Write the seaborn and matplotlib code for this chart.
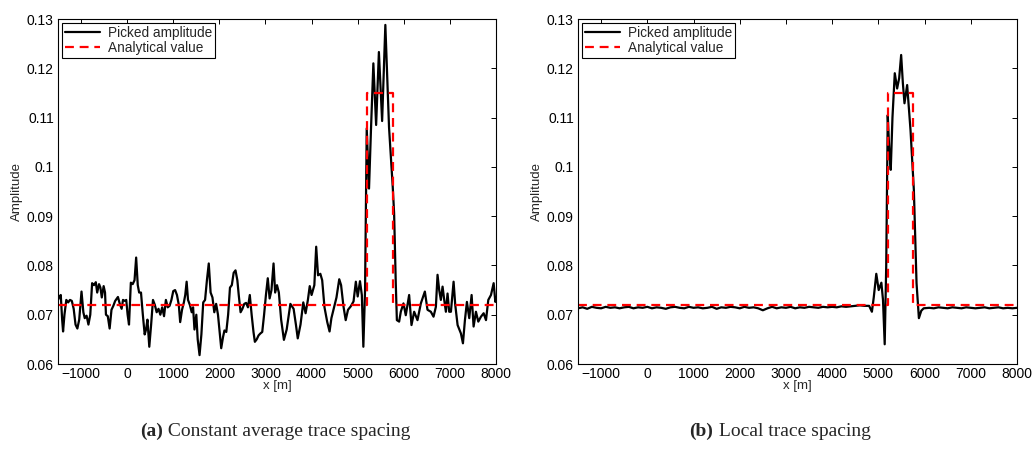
import numpy as np
import pandas as pd
import matplotlib
matplotlib.use("Agg")
import matplotlib.pyplot as plt
import seaborn as sns
from matplotlib.offsetbox import TextArea, HPacker, AnnotationBbox

# ---------------- data ----------------
x_a = [-1500, -1470, -1440, -1410, -1390, -1360, -1320, -1280, -1240, -1200, -1160, -1120,
       -1080, -1040, -990, -950, -920, -880, -840, -800, -760, -720, -680, -650, -610, -580,
       -550, -510, -480, -460, -420, -380, -340, -300, -260, -200, -160, -120, -90, -50, -20,
       10, 40, 80, 120, 160, 195, 230, 260, 300, 340, 380, 410, 440, 480, 520, 560, 600, 640,
       680, 720, 760, 800, 840, 880, 920, 960, 1000, 1040, 1080, 1120, 1150, 1190, 1230, 1260,
       1290, 1320, 1360, 1400, 1430, 1460, 1500, 1530, 1570, 1610, 1650, 1690, 1730, 1770,
       1810, 1850, 1890, 1930, 1970, 2010, 2040, 2080, 2110, 2150, 2190, 2230, 2270, 2310,
       2350, 2390, 2420, 2460, 2500, 2540, 2580, 2620, 2660, 2700, 2740, 2770, 2810, 2850,
       2890, 2930, 2970, 3010, 3050, 3090, 3130, 3175, 3210, 3250, 3290, 3340, 3400, 3460,
       3540, 3610, 3660, 3700, 3760, 3820, 3870, 3920, 3960, 4000, 4060, 4100, 4140, 4190,
       4230, 4280, 4340, 4390, 4430, 4480, 4540, 4600, 4640, 4690, 4740, 4790, 4850, 4910,
       4960, 5000, 5050, 5090, 5123, 5160, 5196, 5246, 5290, 5340, 5400, 5460, 5530, 5600,
       5680, 5760, 5790, 5826, 5850, 5899, 5935, 5993, 6043, 6116, 6167, 6225, 6297, 6370,
       6457, 6514, 6587, 6645, 6696, 6732, 6768, 6804, 6841, 6877, 6913, 6949, 6985, 7022,
       7080, 7116, 7167, 7239, 7283, 7326, 7369, 7420, 7471, 7514, 7565, 7616, 7674, 7732,
       7783, 7833, 7891, 7949, 7986, 8000]
y_a = [0.0730, 0.0737, 0.0740, 0.0690, 0.0666, 0.0700, 0.0730, 0.0725, 0.0730, 0.0728, 0.0712,
       0.0680, 0.0672, 0.0690, 0.0747, 0.0705, 0.0693, 0.0698, 0.0680, 0.0700, 0.0764, 0.0760,
       0.0766, 0.0745, 0.0762, 0.0755, 0.0735, 0.0758, 0.0745, 0.0700, 0.0697, 0.0672, 0.0710,
       0.0718, 0.0728, 0.0736, 0.0722, 0.0712, 0.0730, 0.0728, 0.0730, 0.0700, 0.0680, 0.0765,
       0.0762, 0.0770, 0.0816, 0.0760, 0.0745, 0.0745, 0.0700, 0.0660, 0.0670, 0.0690, 0.0635,
       0.0680, 0.0730, 0.0720, 0.0705, 0.0712, 0.0700, 0.0715, 0.0697, 0.0730, 0.0715, 0.0718,
       0.0730, 0.0748, 0.0750, 0.0740, 0.0720, 0.0685, 0.0710, 0.0725, 0.0740, 0.0767, 0.0730,
       0.0720, 0.0705, 0.0715, 0.0670, 0.0700, 0.0650, 0.0618, 0.0660, 0.0725, 0.0730, 0.0770,
       0.0804, 0.0745, 0.0735, 0.0705, 0.0722, 0.0700, 0.0660, 0.0632, 0.0655, 0.0668, 0.0665,
       0.0700, 0.0755, 0.0760, 0.0785, 0.0790, 0.0770, 0.0740, 0.0705, 0.0712, 0.0722, 0.0724,
       0.0715, 0.0740, 0.0700, 0.0665, 0.0645, 0.0650, 0.0658, 0.0662, 0.0665, 0.0700, 0.0740,
       0.0774, 0.0733, 0.0750, 0.0804, 0.0745, 0.0760, 0.0745, 0.0690, 0.0649, 0.0670, 0.0722,
       0.0712, 0.0680, 0.0652, 0.0680, 0.0725, 0.0703, 0.0730, 0.0758, 0.0740, 0.0760, 0.0838,
       0.0780, 0.0783, 0.0770, 0.0715, 0.0685, 0.0666, 0.0693, 0.0712, 0.0735, 0.0772, 0.0760,
       0.0718, 0.0689, 0.0710, 0.0717, 0.0727, 0.0767, 0.0737, 0.0768, 0.0740, 0.0635, 0.0750,
       0.1078, 0.0956, 0.1080, 0.1210, 0.1085, 0.1233, 0.1093, 0.1288, 0.1080, 0.0960, 0.0906,
       0.0764, 0.0689, 0.0686, 0.0706, 0.0723, 0.0699, 0.0740, 0.0679, 0.0706, 0.0689, 0.0723,
       0.0747, 0.0710, 0.0706, 0.0696, 0.0716, 0.0781, 0.0750, 0.0730, 0.0757, 0.0730, 0.0706,
       0.0743, 0.0706, 0.0706, 0.0767, 0.0720, 0.0679, 0.0662, 0.0642, 0.0689, 0.0726, 0.0693,
       0.0740, 0.0676, 0.0706, 0.0686, 0.0696, 0.0703, 0.0689, 0.0730, 0.0740, 0.0764, 0.0726,
       0.0735]

x_b = [-1500, -1400, -1300, -1200, -1100, -1000, -900, -800, -700, -600, -500, -400, -300,
       -200, -100, 0, 100, 200, 300, 400, 500, 600, 700, 800, 900, 1000, 1100, 1200, 1300,
       1400, 1500, 1600, 1700, 1800, 1900, 2000, 2100, 2200, 2300, 2400, 2500, 2600, 2700,
       2800, 2900, 3000, 3100, 3200, 3300, 3400, 3500, 3600, 3700, 3800, 3900, 4000, 4100,
       4200, 4300, 4400, 4500, 4600, 4700, 4800, 4860, 4900, 4955, 5007, 5065, 5100, 5137,
       5170, 5203, 5235, 5268, 5305, 5355, 5406, 5450, 5493, 5530, 5565, 5623, 5696, 5768,
       5826, 5877, 5928, 5980, 6100, 6200, 6300, 6400, 6500, 6600, 6700, 6800, 6900, 7000,
       7100, 7200, 7300, 7400, 7500, 7600, 7700, 7800, 7900, 8000]
y_b = [0.0713, 0.0715, 0.0712, 0.0716, 0.0714, 0.0713, 0.0716, 0.0714, 0.0715, 0.0713, 0.0715,
       0.0716, 0.0713, 0.0715, 0.0714, 0.0716, 0.0713, 0.0715, 0.0714, 0.0712, 0.0715, 0.0716,
       0.0714, 0.0713, 0.0716, 0.0714, 0.0715, 0.0713, 0.0714, 0.0716, 0.0712, 0.0715, 0.0714,
       0.0716, 0.0715, 0.0713, 0.0716, 0.0714, 0.0715, 0.0713, 0.0709, 0.0713, 0.0716, 0.0713,
       0.0715, 0.0714, 0.0716, 0.0713, 0.0715, 0.0714, 0.0716, 0.0715, 0.0714, 0.0716, 0.0715,
       0.0716, 0.0715, 0.0717, 0.0716, 0.0717, 0.0718, 0.0719, 0.0718, 0.0718, 0.0706, 0.0735,
       0.0783, 0.0750, 0.0765, 0.0730, 0.0640, 0.0800, 0.1105, 0.1035, 0.0994, 0.1100, 0.1190,
       0.1159, 0.1180, 0.1227, 0.1170, 0.1129, 0.1166, 0.1074, 0.0953, 0.0764, 0.0693, 0.0708,
       0.0713, 0.0714, 0.0713, 0.0715, 0.0714, 0.0713, 0.0715, 0.0714, 0.0713, 0.0715, 0.0714,
       0.0713, 0.0714, 0.0715, 0.0713, 0.0714, 0.0715, 0.0713, 0.0714, 0.0713, 0.0714]

# analytical value (step)
x_true = [-1500, 5200, 5200, 5760, 5760, 8000]
y_true = [0.072, 0.072, 0.115, 0.115, 0.072, 0.072]

x_ticks = [-1000, 0, 1000, 2000, 3000, 4000, 5000, 6000, 7000, 8000]
y_ticks = [0.06, 0.07, 0.08, 0.09, 0.10, 0.11, 0.12, 0.13]
y_tick_labels = ["0.06", "0.07", "0.08", "0.09", "0.1", "0.11", "0.12", "0.13"]
labels = ["Picked amplitude", "Analytical value"]
captions = [("(a)", " Constant average trace spacing"), ("(b)", " Local trace spacing")]

# ---------------- style ----------------
sns.set_style("white")
plt.rcParams["font.family"] = ["Liberation Sans", "DejaVu Sans"]
plt.rcParams["xtick.direction"] = "in"
plt.rcParams["ytick.direction"] = "in"
plt.rcParams["xtick.top"] = True
plt.rcParams["ytick.right"] = True
plt.rcParams["xtick.major.size"] = 3.5
plt.rcParams["ytick.major.size"] = 3.5
plt.rcParams["xtick.major.width"] = 0.7
plt.rcParams["ytick.major.width"] = 0.7
plt.rcParams["xtick.color"] = "black"
plt.rcParams["ytick.color"] = "black"

fig = plt.figure(figsize=(10.32, 4.62), dpi=100)
W, H = 1032, 462
ax_px = [(58, 496), (578, 1017)]
top, bot = 19, 364

datasets = [(x_a, y_a), (x_b, y_b)]
cap_centers = [275, 780]

for i, ((xl, xr), (xs, ys)) in enumerate(zip(ax_px, datasets)):
    ax = fig.add_axes([xl / W, (H - bot) / H, (xr - xl) / W, (bot - top) / H])
    df = pd.DataFrame({"x": xs, "y": ys})
    dt = pd.DataFrame({"x": x_true, "y": y_true})
    sns.lineplot(data=df, x="x", y="y", ax=ax, color="black", lw=1.6,
                 sort=False, estimator=None, label=labels[0])
    sns.lineplot(data=dt, x="x", y="y", ax=ax, color="#ff0000", lw=1.6,
                 sort=False, estimator=None, label=labels[1], dashes=False)
    ax.lines[-1].set_linestyle((0, (4, 2.6)))
    ax.set_xlim(-1500, 8000)
    ax.set_ylim(0.06, 0.13)
    ax.set_xticks(x_ticks)
    ax.set_yticks(y_ticks)
    ax.set_yticklabels(y_tick_labels)
    ax.tick_params(labelsize=10, pad=3)
    ax.tick_params(axis="x", pad=2)
    ax.set_xlabel("x [m]", fontsize=9.5, labelpad=-0.5)
    ax.set_ylabel("Amplitude", fontsize=9.5, labelpad=3)
    for s in ax.spines.values():
        s.set_color("black")
        s.set_linewidth(0.8)
    leg = ax.legend(loc="upper left", fontsize=9.8, frameon=True, fancybox=False,
                    edgecolor="black", framealpha=1, borderaxespad=0.3,
                    handlelength=2.6, borderpad=0.2, labelspacing=0.1,
                    handletextpad=0.6)
    leg.get_frame().set_linewidth(0.8)
    leg.legend_handles[1].set_linestyle((0, (4, 2.6)))

    bold, rest = captions[i]
    ta = TextArea(bold, textprops=dict(family="Liberation Serif", fontweight="bold", fontsize=14))
    tb = TextArea(rest, textprops=dict(family="Liberation Serif", fontsize=14))
    box = HPacker(children=[ta, tb], align="baseline", pad=0, sep=0)
    ab = AnnotationBbox(box, (cap_centers[i] / W, (H - 431) / H), xycoords="figure fraction",
                        frameon=False, box_alignment=(0.5, 0.5))
    fig.add_artist(ab)

fig.savefig("out.png", dpi=100)
